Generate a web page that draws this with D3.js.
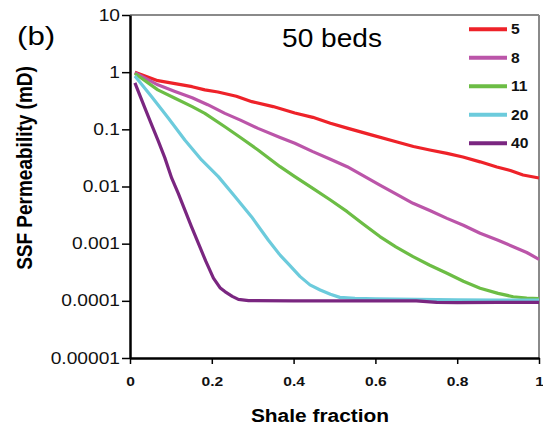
<!DOCTYPE html>
<html>
<head>
<meta charset="utf-8">
<script src="https://cdn.jsdelivr.net/npm/d3@7"></script>
<style>
  body { margin: 0; background: #fff; }
  svg { display: block; font-family: "Liberation Sans", Arial, Helvetica, sans-serif; }
</style>
</head>
<body>
<svg id="chart" width="543" height="429"></svg>
<script>
// Number of beds per series and their colours
const beds = [5, 8, 11, 20, 40];
const colors = ["#ee2229", "#bb55a9", "#6cbd45", "#6ccbdc", "#7a2680"];

// Shale fraction / SSF permeability (mD) per series
const frac5 = [0.012, 0.068, 0.11, 0.152, 0.183, 0.215, 0.26, 0.298, 0.35, 0.403, 0.447, 0.49, 0.531, 0.59, 0.653, 0.693, 0.733, 0.775, 0.814, 0.856, 0.897, 0.93, 0.961, 1.0];
const perm5 = [1.0, 0.71, 0.63, 0.557, 0.49, 0.45, 0.38, 0.305, 0.25, 0.193, 0.162, 0.128, 0.105, 0.08, 0.06, 0.05, 0.0435, 0.038, 0.0328, 0.027, 0.0219, 0.019, 0.0159, 0.0141];

const frac8 = [0.012, 0.068, 0.11, 0.152, 0.19, 0.232, 0.27, 0.313, 0.367, 0.403, 0.447, 0.49, 0.531, 0.57, 0.611, 0.65, 0.692, 0.733, 0.775, 0.815, 0.856, 0.9, 0.937, 0.97, 1.0];
const perm8 = [0.98, 0.6, 0.46, 0.358, 0.27, 0.19, 0.145, 0.104, 0.072, 0.057, 0.0407, 0.03, 0.0222, 0.0155, 0.0106, 0.0074, 0.00508, 0.0038, 0.00277, 0.0021, 0.00152, 0.00115, 0.000885, 0.0007, 0.000532];

const frac11 = [0.012, 0.068, 0.11, 0.152, 0.183, 0.232, 0.27, 0.313, 0.367, 0.403, 0.447, 0.49, 0.531, 0.57, 0.611, 0.65, 0.692, 0.733, 0.775, 0.815, 0.856, 0.9, 0.937, 0.97, 1.0];
const perm11 = [0.95, 0.49, 0.35, 0.249, 0.19, 0.111, 0.072, 0.0435, 0.0222, 0.0149, 0.0093, 0.0058, 0.00363, 0.0022, 0.00133, 0.00088, 0.000593, 0.00042, 0.000303, 0.00022, 0.000166, 0.000135, 0.000118, 0.000112, 0.000109];

const frac20 = [0.012, 0.053, 0.094, 0.134, 0.175, 0.216, 0.257, 0.297, 0.338, 0.367, 0.39, 0.416, 0.44, 0.465, 0.49, 0.513, 0.55, 0.6, 0.7, 0.8, 0.9, 1.0];
const perm20 = [0.86, 0.372, 0.156, 0.065, 0.0291, 0.0149, 0.00664, 0.00297, 0.00116, 0.00063, 0.00042, 0.000265, 0.00019, 0.000155, 0.00013, 0.000115, 0.00011, 0.000108, 0.000106, 0.000104, 0.000103, 0.000103];

const frac40 = [0.012, 0.037, 0.053, 0.069, 0.085, 0.102, 0.118, 0.134, 0.15, 0.167, 0.185, 0.204, 0.22, 0.232, 0.25, 0.265, 0.29, 0.4, 0.5, 0.6, 0.7, 0.75, 0.8, 0.9, 1.0];
const perm40 = [0.65, 0.23, 0.12, 0.063, 0.032, 0.014, 0.0076, 0.0039, 0.002, 0.00102, 0.0005, 0.00025, 0.00017, 0.000145, 0.00012, 0.000106, 0.000101, 0.0001, 0.0001, 0.0001, 0.0001, 0.000094, 0.000093, 0.000094, 0.000094];

const fracs = [frac5, frac8, frac11, frac20, frac40];
const perms = [perm5, perm8, perm11, perm20, perm40];

// Axis ticks
const xTicks = [0, 0.2, 0.4, 0.6, 0.8, 1];
const xTickLabels = ["0", "0.2", "0.4", "0.6", "0.8", "1"];
const yTicks = [1e-5, 1e-4, 1e-3, 1e-2, 1e-1, 1, 10];
const yTickLabels = ["0.00001", "0.0001", "0.001", "0.01", "0.1", "1", "10"];

const svg = d3.select("#chart");
const x = d3.scaleLinear().domain([0, 1]).range([130, 539]);
const y = d3.scaleLog().domain([1e-5, 10]).range([358, 15]);

// Horizontally widened text
function wideText(parent, px, py, str, sx, attrs) {
  const t = parent.append("text")
    .attr("transform", `translate(${px},${py}) scale(${sx},1)`)
    .text(str);
  Object.entries(attrs || {}).forEach(([k, v]) => t.attr(k, v));
  return t;
}

// Grey frame on top and right
svg.append("line")
  .attr("x1", x(0)).attr("x2", x(1)).attr("y1", y(10)).attr("y2", y(10))
  .attr("stroke", "#8a8a8a").attr("stroke-width", 2);
svg.append("line")
  .attr("x1", x(1)).attr("x2", x(1)).attr("y1", y(10)).attr("y2", y(1e-5))
  .attr("stroke", "#8a8a8a").attr("stroke-width", 2);

// Series lines
const line = d3.line().x(d => x(d[0])).y(d => y(d[1]));
beds.forEach((b, i) => {
  const pts = fracs[i].map((f, j) => [f, perms[i][j]]);
  svg.append("path")
    .datum(pts)
    .attr("d", line)
    .attr("fill", "none")
    .attr("stroke", colors[i])
    .attr("stroke-width", 3.2)
    .attr("stroke-linejoin", "round");
});

// Left axis
const yAxis = svg.append("g")
  .attr("transform", `translate(${x(0)},0)`)
  .call(d3.axisLeft(y).tickValues(yTicks).tickFormat((d, i) => yTickLabels[i]).tickSize(8).tickSizeOuter(0));
yAxis.select(".domain").attr("stroke", "#000").attr("stroke-width", 2.5);
yAxis.selectAll(".tick line").attr("stroke", "#000").attr("stroke-width", 1.5);
yAxis.selectAll(".tick text")
  .attr("font-size", 16)
  .attr("fill", "#111")
  .attr("font-family", "Liberation Sans, Arial, sans-serif")
  .attr("x", -10 / 1.2)
  .attr("transform", "scale(1.2,1)");

// Bottom axis
const xAxis = svg.append("g")
  .attr("transform", `translate(0,${y(1e-5)})`)
  .call(d3.axisBottom(x).tickValues(xTicks).tickFormat((d, i) => xTickLabels[i]).tickSize(6).tickSizeOuter(0));
xAxis.select(".domain").attr("stroke", "#000").attr("stroke-width", 2.5);
xAxis.selectAll(".tick line").attr("stroke", "#000").attr("stroke-width", 1.5);
xAxis.selectAll(".tick text")
  .attr("font-size", 13)
  .attr("font-weight", "bold")
  .attr("fill", "#111")
  .attr("font-family", "Liberation Sans, Arial, sans-serif")
  .attr("y", 19)
  .attr("transform", "scale(1.2,1)");

// Axis titles
wideText(svg, 320, 422, "Shale fraction", 1.1, {
  "font-size": 19, "font-weight": "bold", "text-anchor": "middle", "fill": "#000"
});
svg.append("text")
  .attr("transform", "translate(32,168) scale(1.15,1) rotate(-90)")
  .attr("font-size", 19).attr("font-weight", "bold").attr("text-anchor", "middle").attr("fill", "#000")
  .text("SSF Permeability (mD)");

// Panel letter and title
wideText(svg, 17, 45, "(b)", 1.2, { "font-size": 26, "fill": "#000" });
wideText(svg, 332, 47, "50 beds", 1.08, { "font-size": 26, "text-anchor": "middle", "fill": "#000" });

// Legend
const legendY = d3.scalePoint().domain(beds).range([29.3, 143.3]);
beds.forEach((b, i) => {
  const ly = legendY(b);
  svg.append("line")
    .attr("x1", 469).attr("x2", 507).attr("y1", ly).attr("y2", ly)
    .attr("stroke", colors[i]).attr("stroke-width", 4);
  wideText(svg, 511, ly + 5, String(b), 1.12, { "font-size": 14, "font-weight": "bold", "fill": "#111" });
});
</script>
</body>
</html>
